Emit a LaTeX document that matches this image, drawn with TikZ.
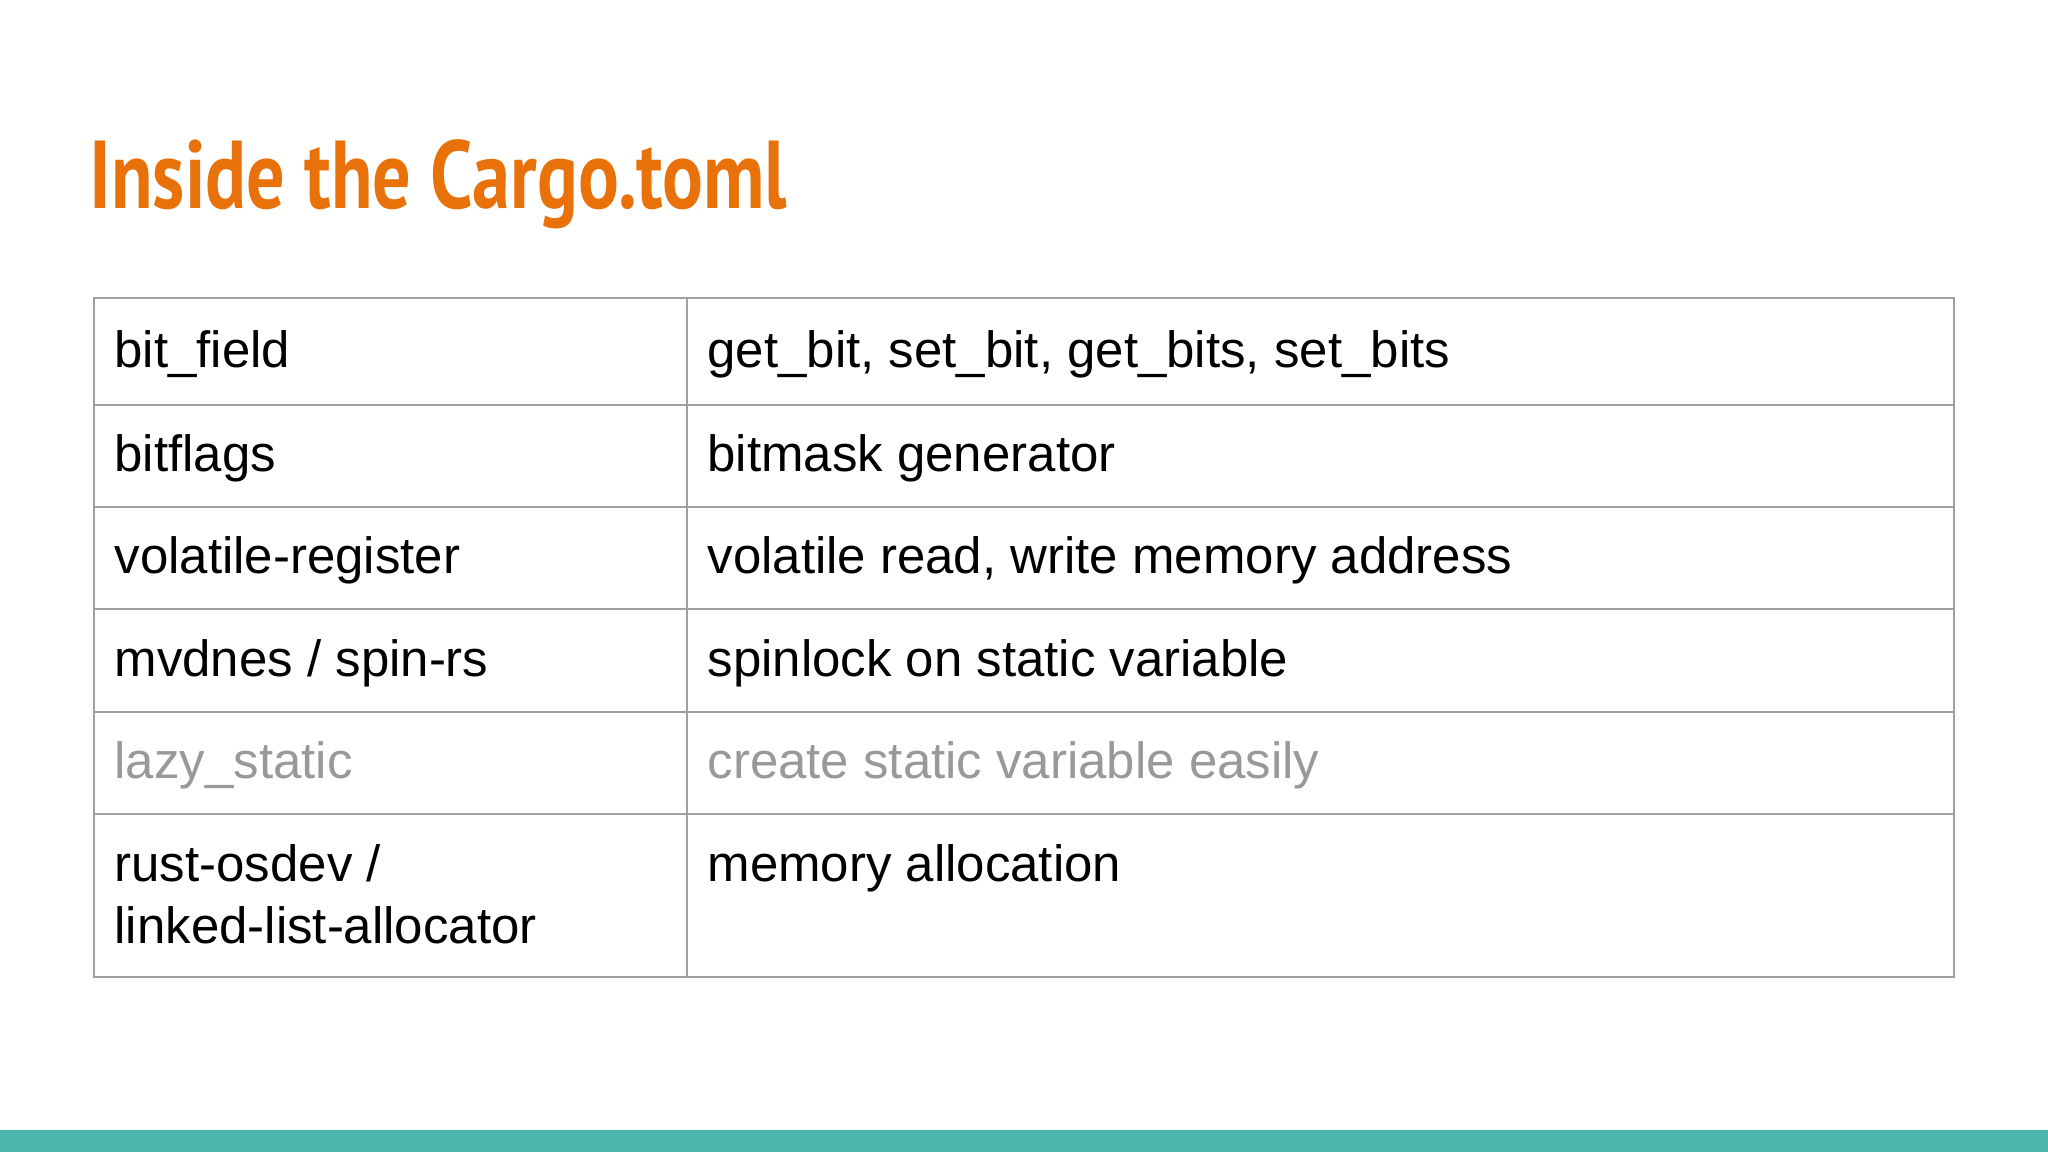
\documentclass[tikz,border=0pt]{standalone}
\usepackage{fontspec}
\setmainfont{Liberation Sans}
\newfontfamily\titlefont[FakeStretch=0.79]{PT Sans Bold}
\definecolor{ttl}{HTML}{E8710A}
\definecolor{grid}{HTML}{A0A0A0}
\definecolor{teal}{HTML}{4DB6AC}
\definecolor{dim}{HTML}{999999}
\begin{document}
\begin{tikzpicture}[x=0.01cm,y=-0.01cm,
  cell/.style={anchor=base west,inner sep=0pt,font=\fontsize{11.1}{13.4}\selectfont,align=left},
  gline/.style={draw=grid,line width=0.5pt}]
\useasboundingbox (0,0) rectangle (1568,882);
\fill[teal] (0,865) rectangle (1568,882);
\node[anchor=base west,inner sep=0pt,text=ttl,font=\fontsize{21}{24}\titlefont] (title) at (68,160) {Inside the Cargo.toml};
\draw[gline] (72,228) rectangle (1496,748);
\draw[gline] (526,228) -- (526,748);
\foreach \y in {310,388,466,545,623} \draw[gline] (72,\y) -- (1496,\y);
\node[cell] (a1) at (87,281) {bit\_field};
\node[cell] (b1) at (541,281) {get\_bit, set\_bit, get\_bits, set\_bits};
\node[cell] (a2) at (87,361) {bitflags};
\node[cell] (b2) at (541,361) {bitmask generator};
\node[cell] (a3) at (87,439) {volatile-register};
\node[cell] (b3) at (541,439) {volatile read, write memory address};
\node[cell] (a4) at (87,518) {mvdnes / spin-rs};
\node[cell] (b4) at (541,518) {spinlock on static variable};
\node[cell,text=dim] (a5) at (87,596) {lazy\_static};
\node[cell,text=dim] (b5) at (541,596) {create static variable easily};
\node[cell] (a6) at (87,722) {rust-osdev /\\linked-list-allocator};
\node[cell] (b6) at (541,675) {memory allocation};
\end{tikzpicture}
\end{document}
